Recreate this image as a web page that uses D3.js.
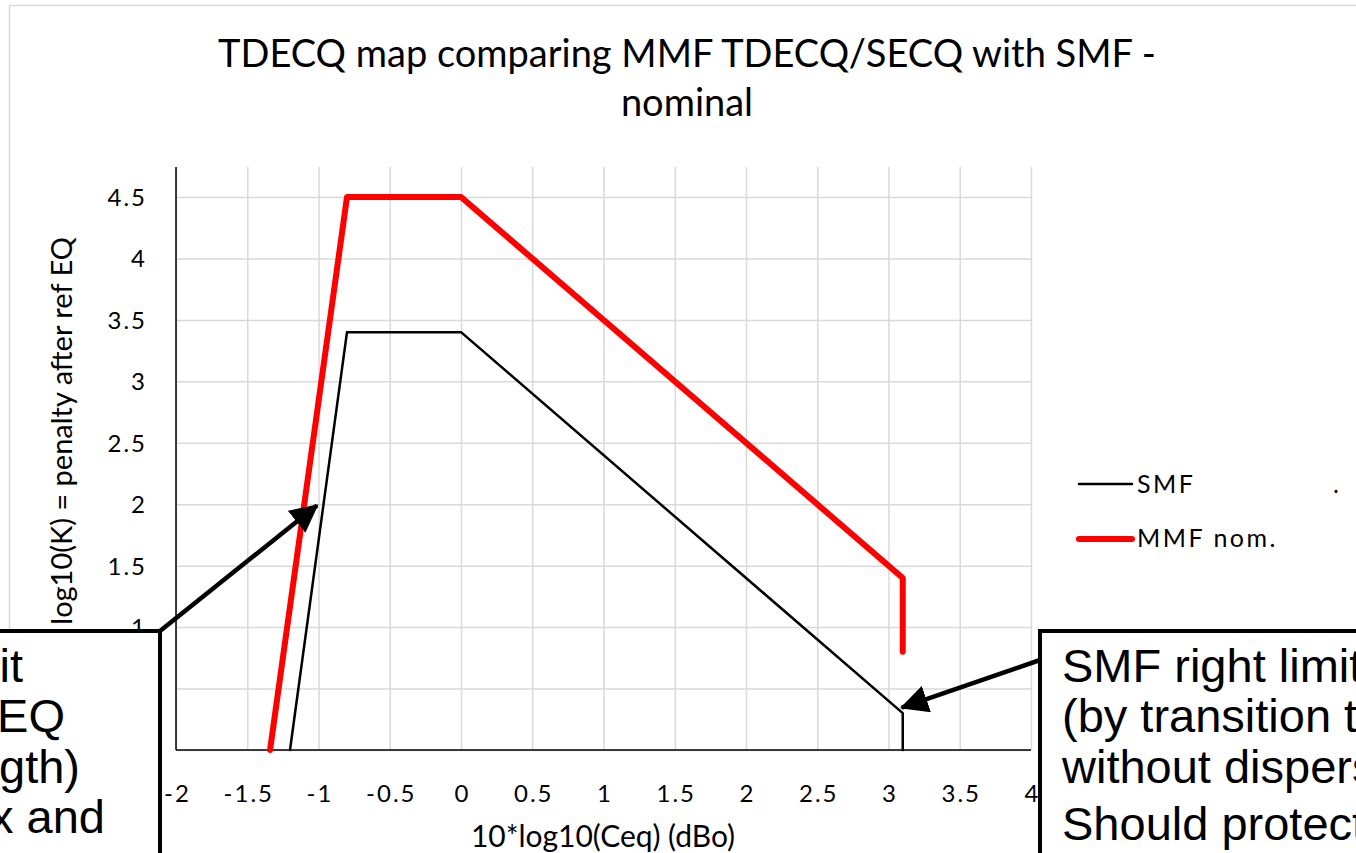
<!DOCTYPE html>
<html>
<head>
<meta charset="utf-8">
<script src="https://cdn.jsdelivr.net/npm/d3@7/dist/d3.min.js"></script>
<style>
  body { margin: 0; background: #fff; overflow: hidden; }
  text { font-family: Lato, "Open Sans", sans-serif; fill: #000; }
  .note { font-family: "Liberation Sans", Arial, sans-serif; }
</style>
</head>
<body>
<svg width="1356" height="853"></svg>
<script>
// data
const smfX = [-1.2, -0.8, 0, 3.1, 3.1];
const smfY = [0, 3.4, 3.4, 0.3, 0];
const mmfX = [-1.34, -0.8, 0, 3.1, 3.1];
const mmfY = [0, 4.5, 4.5, 1.4, 0.8];

const xTicks = [-2, -1.5, -1, -0.5, 0, 0.5, 1, 1.5, 2, 2.5, 3, 3.5, 4];
const xTickLabels = ['-2', '-1.5', '-1', '-0.5', '0', '0.5', '1', '1.5', '2', '2.5', '3', '3.5', '4'];
const yTicks = [0, 0.5, 1, 1.5, 2, 2.5, 3, 3.5, 4, 4.5];
const yTickLabels = ['0', '0.5', '1', '1.5', '2', '2.5', '3', '3.5', '4', '4.5'];

const seriesNames = ['SMF', 'MMF nom.'];
const seriesColors = ['#000000', '#ff0000'];
const seriesWidths = [2.5, 6];

const titleLines = ['TDECQ map comparing MMF TDECQ/SECQ with SMF -', 'nominal'];
const xTitle = '10*log10(Ceq) (dBo)';
const yTitle = 'log10(K) = penalty after ref EQ';

// callout boxes (text partly runs off the page, as in the original)
const leftNote = ['SMF left limit', '(by ref. EQ', 'length)', 'Max and'];
const rightNote = ['SMF right limit', '(by transition to', 'without dispersion)', 'Should protect SMF'];
// arrow tips in data units
const leftArrowTip = [-1.0, 2.0];
const rightArrowTip = [3.08, 0.34];

const svg = d3.select('svg');

const pLeft = 176, pRight = 1031, pTop = 167, pBottom = 750;
const x = d3.scaleLinear().domain([-2, 4]).range([pLeft, pRight]);
const y = d3.scaleLinear().domain([0, 4.5]).range([pBottom, 197]);

// chart frame
svg.append('rect')
  .attr('x', 9.5).attr('y', 5.5)
  .attr('width', 1400).attr('height', 900)
  .attr('fill', '#fff')
  .attr('stroke', '#d9d9d9').attr('stroke-width', 1.5);

// title
svg.append('text')
  .attr('x', 687).attr('y', 67)
  .attr('text-anchor', 'middle')
  .style('font-size', '38px')
  .selectAll('tspan')
  .data(titleLines)
  .enter()
  .append('tspan')
  .attr('x', 687)
  .attr('dy', (d, i) => (i === 0 ? 0 : 49))
  .text((d) => d);

// x axis + vertical grid
const xAxis = svg.append('g')
  .attr('transform', `translate(0,${pBottom})`)
  .call(d3.axisBottom(x).tickValues(xTicks).tickSize(-(pBottom - pTop)).tickFormat((d, i) => xTickLabels[i]));
xAxis.select('.domain').remove();
xAxis.selectAll('.tick line').attr('stroke', '#d9d9d9').attr('stroke-width', 1.5);
xAxis.selectAll('.tick text')
  .attr('x', 1).attr('y', 52).attr('dy', 0)
  .style('font-size', '24px').style('letter-spacing', '2px')
  .style('font-family', 'Lato, sans-serif');

// y axis + horizontal grid
const yAxis = svg.append('g')
  .attr('transform', `translate(${pLeft},0)`)
  .call(d3.axisLeft(y).tickValues(yTicks).tickSize(-(pRight - pLeft)).tickFormat((d, i) => yTickLabels[i]));
yAxis.select('.domain').remove();
yAxis.selectAll('.tick line').attr('stroke', '#d9d9d9').attr('stroke-width', 1.5);
yAxis.selectAll('.tick text')
  .attr('x', -29).attr('dy', '0.35em')
  .style('font-size', '24px').style('letter-spacing', '2px')
  .style('font-family', 'Lato, sans-serif');

// axis lines
svg.append('line')
  .attr('x1', pLeft).attr('x2', pLeft).attr('y1', pTop).attr('y2', pBottom)
  .attr('stroke', '#000').attr('stroke-width', 1.5);
svg.append('line')
  .attr('x1', pLeft).attr('x2', pRight).attr('y1', pBottom).attr('y2', pBottom)
  .attr('stroke', '#000').attr('stroke-width', 1.5);

// axis titles
svg.append('text')
  .attr('x', 603).attr('y', 847)
  .attr('text-anchor', 'middle')
  .style('font-size', '30px')
  .text(xTitle);
svg.append('text')
  .attr('transform', 'translate(72,237) rotate(-90)')
  .attr('text-anchor', 'end')
  .style('font-size', '29px')
  .text(yTitle);

// series
const line = d3.line().x((d) => x(d[0])).y((d) => y(d[1]));
const series = [d3.zip(smfX, smfY), d3.zip(mmfX, mmfY)];

svg.selectAll('.series')
  .data(series)
  .enter()
  .append('path')
  .classed('series', true)
  .attr('d', line)
  .attr('fill', 'none')
  .attr('stroke', (d, i) => seriesColors[i])
  .attr('stroke-width', (d, i) => seriesWidths[i])
  .attr('stroke-linejoin', 'round')
  .attr('stroke-linecap', 'round');

// legend
const legend = svg.append('g');
legend.selectAll('line')
  .data(seriesNames)
  .enter()
  .append('line')
  .attr('x1', 1079).attr('x2', 1132)
  .attr('y1', (d, i) => 484 + i * 55).attr('y2', (d, i) => 484 + i * 55)
  .attr('stroke', (d, i) => seriesColors[i])
  .attr('stroke-width', (d, i) => seriesWidths[i])
  .attr('stroke-linecap', 'round');
legend.selectAll('text')
  .data(seriesNames)
  .enter()
  .append('text')
  .attr('x', 1137)
  .attr('y', (d, i) => 493 + i * 54)
  .style('font-size', '25px').style('letter-spacing', '2.5px')
  .text((d) => d);
legend.append('text')
  .attr('x', 1333).attr('y', 493)
  .style('font-size', '25px')
  .text('.');

// arrows
const defs = svg.append('defs');
defs.append('marker')
  .attr('id', 'head')
  .attr('markerUnits', 'userSpaceOnUse')
  .attr('viewBox', '0 0 28 28')
  .attr('markerWidth', 28).attr('markerHeight', 28)
  .attr('refX', 26).attr('refY', 14)
  .attr('orient', 'auto')
  .append('path')
  .attr('d', 'M0,0 L28,14 L0,28 Z')
  .attr('fill', '#000');

function arrow(x0, y0, tip) {
  const tx = x(tip[0]), ty = y(tip[1]);
  const dx = tx - x0, dy = ty - y0, len = Math.hypot(dx, dy);
  svg.append('line')
    .attr('x1', x0).attr('y1', y0)
    .attr('x2', tx - (dx / len) * 2).attr('y2', ty - (dy / len) * 2)
    .attr('stroke', '#000').attr('stroke-width', 4.5)
    .attr('marker-end', 'url(#head)');
}

// callout boxes
svg.append('rect')
  .attr('x', -20).attr('y', 631)
  .attr('width', 180).attr('height', 260)
  .attr('fill', '#fff').attr('stroke', '#000').attr('stroke-width', 4);
svg.append('rect')
  .attr('x', 1040).attr('y', 631)
  .attr('width', 400).attr('height', 260)
  .attr('fill', '#fff').attr('stroke', '#000').attr('stroke-width', 4);

arrow(160, 631, leftArrowTip);
arrow(1040, 660, rightArrowTip);

const leftEnds = [23, 65, 80, 105];
const leftBase = [682, 732, 783, 833];
svg.selectAll('.lnote')
  .data(leftNote)
  .enter()
  .append('text')
  .classed('note lnote', true)
  .attr('x', (d, i) => leftEnds[i])
  .attr('y', (d, i) => leftBase[i])
  .attr('text-anchor', 'end')
  .style('font-size', '47px')
  .text((d) => d);

const rightBase = [682, 732, 783, 840];
svg.selectAll('.rnote')
  .data(rightNote)
  .enter()
  .append('text')
  .classed('note rnote', true)
  .attr('x', 1062)
  .attr('y', (d, i) => rightBase[i])
  .style('font-size', '47px')
  .text((d) => d);
</script>
</body>
</html>
